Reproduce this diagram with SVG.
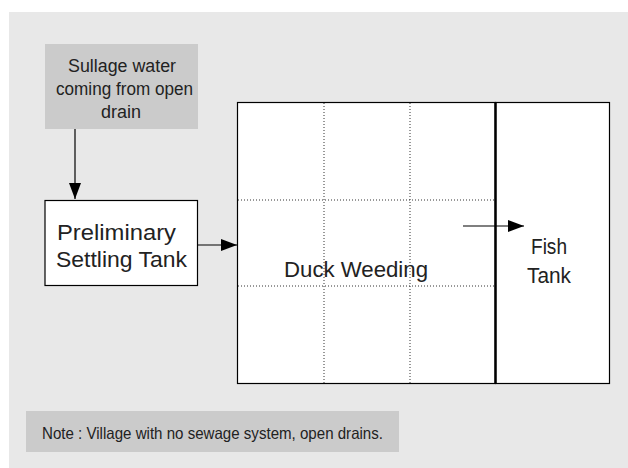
<svg xmlns="http://www.w3.org/2000/svg" width="628" height="468" viewBox="0 0 628 468">
  <style>
    text { font-family: "Liberation Sans", Arial, sans-serif; fill: #222; }
    .box { fill: #fff; stroke: #000; stroke-width: 1.2; }
    .grey { fill: #cbcbcb; }
    .dot { stroke: #333; stroke-width: 1; stroke-dasharray: 1 2; fill: none; }
    .conn { stroke: #000; stroke-width: 1.2; fill: none; marker-end: url(#arrow); }
    .s { font-size: 17.5px; }
    .l { font-size: 22px; }
    .n { font-size: 16.5px; }
  </style>
  <defs>
    <marker id="arrow" viewBox="0 0 16 12" refX="16" refY="6" markerWidth="16" markerHeight="12" markerUnits="userSpaceOnUse" orient="auto">
      <path d="M0,0 L16,6 L0,12 Z" fill="#000"/>
    </marker>
  </defs>

  <!-- panel background -->
  <rect x="9" y="12" width="619" height="456" fill="#e8e8e8"/>

  <g id="source">
    <rect class="grey" x="45" y="44" width="153" height="85"/>
    <text class="s" x="68" y="72" textLength="108" lengthAdjust="spacingAndGlyphs">Sullage water</text>
    <text class="s" x="56" y="95" textLength="137" lengthAdjust="spacingAndGlyphs">coming from open</text>
    <text class="s" x="101" y="118" textLength="40" lengthAdjust="spacingAndGlyphs">drain</text>
  </g>

  <g id="settling">
    <rect class="box" x="45" y="200.5" width="152.5" height="85"/>
    <text class="l" x="57" y="240" textLength="119" lengthAdjust="spacingAndGlyphs">Preliminary</text>
    <text class="l" x="56" y="267" textLength="131" lengthAdjust="spacingAndGlyphs">Settling Tank</text>
  </g>

  <g id="duck-weeding">
    <rect class="box" x="237.5" y="102.5" width="258" height="281"/>
    <line class="dot" x1="324" y1="103" x2="324" y2="383"/>
    <line class="dot" x1="410" y1="103" x2="410" y2="383"/>
    <line class="dot" x1="238" y1="200" x2="494" y2="200"/>
    <line class="dot" x1="238" y1="286" x2="494" y2="286"/>
    <text class="l" x="284" y="277" textLength="144" lengthAdjust="spacingAndGlyphs">Duck Weeding</text>
  </g>

  <g id="fish-tank">
    <rect class="box" x="495.5" y="102.5" width="114" height="281"/>
    <line x1="495.5" y1="102" x2="495.5" y2="384" stroke="#000" stroke-width="2.5"/>
    <text class="l" x="531" y="254" textLength="36" lengthAdjust="spacingAndGlyphs">Fish</text>
    <text class="l" x="527" y="283" textLength="44" lengthAdjust="spacingAndGlyphs">Tank</text>
  </g>

  <g id="note">
    <rect class="grey" x="26" y="411" width="373" height="41"/>
    <text class="n" x="42" y="439" textLength="341" lengthAdjust="spacingAndGlyphs">Note : Village with no sewage system, open drains.</text>
  </g>

  <g id="connectors">
    <line class="conn" x1="75" y1="129" x2="75" y2="199"/>
    <line class="conn" x1="198" y1="245" x2="237" y2="245"/>
    <line class="conn" x1="463" y1="226" x2="524" y2="226"/>
  </g>
</svg>
